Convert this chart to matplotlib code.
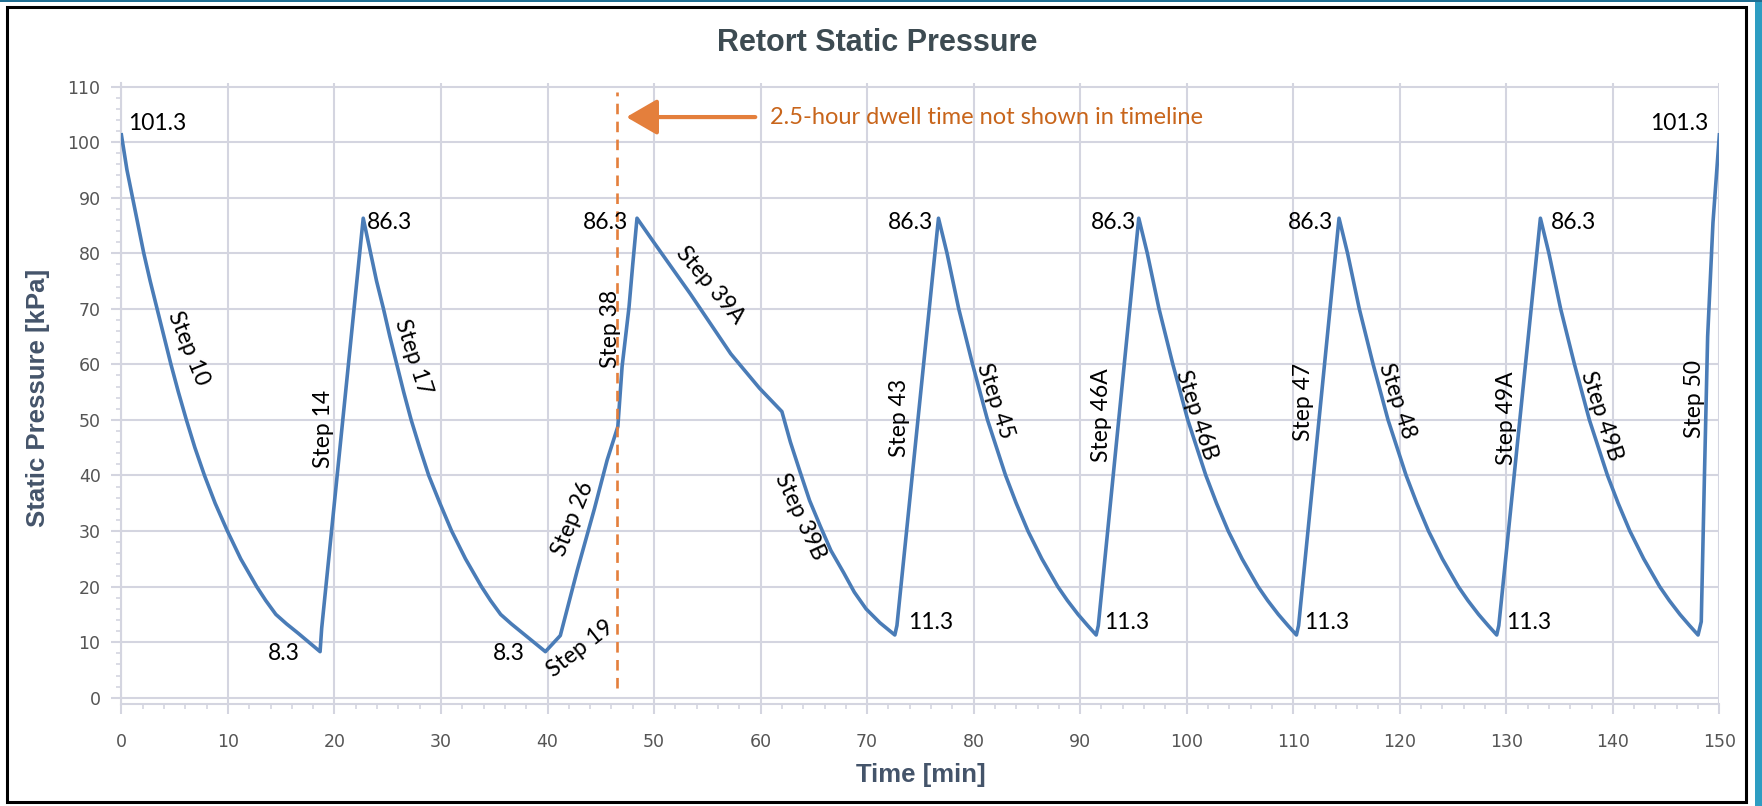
import matplotlib
matplotlib.use('Agg')
import matplotlib.pyplot as plt
from matplotlib.patches import Rectangle
from matplotlib.ticker import MultipleLocator

# ---------------- data ----------------
time_min = [
    # Step 10
    0.0, 0.52, 1.05, 1.57, 2.1, 2.7, 3.35, 4.0, 4.65, 5.35, 6.1, 6.9, 7.8,
    8.8, 9.95, 11.2, 12.7, 13.55, 14.5, 15.5, 16.6, 17.6, 18.65,
    # Step 14
    18.8, 22.7,
    # Step 17
    23.4, 23.95, 24.6, 25.2, 25.85, 26.5, 27.2, 28.0, 28.85, 29.9, 31.0,
    32.3, 33.8, 34.65, 35.6, 36.6, 38.2, 39.8,
    # Step 19
    41.2,
    # Step 26
    42.8, 44.4, 45.6, 46.6,
    # Step 38
    47.0, 47.65, 48.0, 48.4,
    # Step 39A
    50.0, 53.4, 57.2, 59.9, 62.0,
    # Step 39B
    62.8, 63.75, 64.6, 65.6, 66.6, 67.8, 68.8, 69.9, 71.2, 72.6,
    # Step 43
    72.8, 76.7,
    # Step 45
    77.5, 78.05, 78.6, 79.25, 79.9, 80.6, 81.3, 82.15, 83.0, 84.0, 85.1,
    86.4, 87.9, 88.8, 89.8, 90.7, 91.5,
    # Step 46A
    91.7, 95.5,
    # Step 46B
    96.3, 96.85, 97.4, 98.05, 98.7, 99.4, 100.1, 100.95, 101.8, 102.8,
    103.9, 105.2, 106.7, 107.6, 108.6, 109.5, 110.3,
    # Step 47
    110.5, 114.3,
    # Step 48
    115.1, 115.65, 116.2, 116.85, 117.5, 118.2, 118.9, 119.75, 120.6, 121.6,
    122.7, 124.0, 125.5, 126.4, 127.4, 128.3, 129.1,
    # Step 49A
    129.3, 133.2,
    # Step 49B
    134.0, 134.55, 135.1, 135.75, 136.4, 137.1, 137.8, 138.65, 139.5, 140.5,
    141.6, 142.9, 144.4, 145.3, 146.3, 147.2, 148.0,
    # Step 50
    148.3, 148.6, 148.9, 149.4, 150.0]
pressure_kpa = [
    101.3, 95, 90, 85, 80, 75, 70, 65, 60, 55, 50, 45, 40,
    35, 30, 25, 20, 17.5, 15, 13.3, 11.6, 10, 8.3,
    12.5, 86.3,
    80, 75, 70, 65, 60, 55, 50, 45, 40, 35, 30,
    25, 20, 17.5, 15, 13.3, 10.8, 8.3,
    11.2,
    23.0, 34.0, 42.8, 48.8,
    59.6, 70.3, 78.0, 86.3,
    81.9, 72.7, 61.9, 55.7, 51.5,
    46.0, 40.4, 35.5, 30.9, 26.5, 22.5, 19.0, 16.0, 13.5, 11.3,
    13.0, 86.3,
    80, 75, 70, 65, 60, 55, 50, 45, 40, 35, 30,
    25, 20, 17.5, 15, 13, 11.3,
    13.0, 86.3,
    80, 75, 70, 65, 60, 55, 50, 45, 40, 35,
    30, 25, 20, 17.5, 15, 13, 11.3,
    13.0, 86.3,
    80, 75, 70, 65, 60, 55, 50, 45, 40, 35,
    30, 25, 20, 17.5, 15, 13, 11.3,
    13.0, 86.3,
    80, 75, 70, 65, 60, 55, 50, 45, 40, 35,
    30, 25, 20, 17.5, 15, 13, 11.3,
    13.7, 40.0, 65.0, 85.5, 101.3]

value_labels = ["101.3", "8.3", "86.3", "8.3", "86.3", "86.3", "86.3", "86.3",
                "86.3", "101.3", "11.3", "11.3", "11.3", "11.3"]
value_t = [3.4, 15.2, 25.2, 36.4, 45.4, 74.1, 93.1, 111.6, 136.3, 146.2,
           76.0, 94.4, 113.1, 132.1]
value_p = [103.3, 7.9, 85.5, 7.9, 85.5, 85.5, 85.5, 85.5, 85.5, 103.3,
           13.5, 13.5, 13.5, 13.5]

step_labels = ["Step 10", "Step 14", "Step 17", "Step 19", "Step 26", "Step 38",
               "Step 39A", "Step 39B", "Step 43", "Step 45", "Step 46A",
               "Step 46B", "Step 47", "Step 48", "Step 49A", "Step 49B",
               "Step 50"]
step_t = [6.3, 19.0, 27.4, 43.1, 42.4, 45.9, 55.3, 63.7, 73.0, 82.0, 92.0,
          100.9, 111.0, 119.7, 130.0, 138.9, 147.7]
step_p = [62.9, 48.3, 61.3, 8.9, 32.2, 66.3, 74.2, 32.6, 50.4, 53.4, 50.8,
          50.8, 53.2, 53.4, 50.4, 50.8, 53.8]
step_rot = [-68, 90, -72, 38, 68, 90, -50, -65, 90, -72, 90, -72, 90, -72,
            90, -72, 90]

dwell_t = 46.5
arrow_tip_t = 47.4
arrow_tail_t = 59.5
arrow_p = 104.5
note_text = "2.5-hour dwell time not shown in timeline"
note_t = 60.9

title = "Retort Static Pressure"
xlabel = "Time [min]"
ylabel = "Static Pressure [kPa]"

# ---------------- styling ----------------
GRID = '#D4D5E0'
LINE = '#4A7CB7'
TICKC = '#555555'
LABC = '#44546A'
ORANGE = '#E47F3C'
NOTE = '#C8651B'
LABEL_FS = 16.5

fig = plt.figure(figsize=(17.62, 8.06), dpi=100)
fig.patch.set_facecolor('white')

ax = fig.add_axes([0.0689, 0.1267, 0.9069, 0.7708])
ax.set_xlim(0, 150)
ax.set_ylim(-1.1, 110.7)

ax.xaxis.set_major_locator(MultipleLocator(10))
ax.xaxis.set_minor_locator(MultipleLocator(2))
ax.set_yticks(range(0, 111, 10))
ax.yaxis.set_minor_locator(MultipleLocator(2))

for s in ['top', 'right']:
    ax.spines[s].set_visible(False)
for s in ['left', 'bottom']:
    ax.spines[s].set_color(GRID)
    ax.spines[s].set_linewidth(1.5)

ax.grid(True, which='major', color=GRID, linewidth=1.5, zorder=0)
ax.set_axisbelow(True)
ax.tick_params(axis='both', which='major', color=GRID, width=1.5, length=7,
               labelsize=12.5, labelcolor=TICKC)
ax.tick_params(axis='x', which='major', pad=14)
ax.tick_params(axis='y', which='major', pad=8)
ax.tick_params(axis='both', which='minor', color=GRID, width=1.2, length=3.5)
for lab in ax.get_xticklabels() + ax.get_yticklabels():
    lab.set_family('DejaVu Sans')

ax.plot(time_min, pressure_kpa, color=LINE, linewidth=2.6, zorder=3)

for txt, t, p in zip(value_labels, value_t, value_p):
    ax.text(t, p, txt, ha='center', va='center', fontsize=LABEL_FS,
            family='Lato', color='black', zorder=5)

for txt, t, p, r in zip(step_labels, step_t, step_p, step_rot):
    ax.text(t, p, txt, ha='center', va='center', fontsize=LABEL_FS,
            family='Lato', rotation=r, rotation_mode='anchor',
            color='black', zorder=5)

ax.vlines(dwell_t, 1.8, 109, colors=ORANGE, linewidth=1.9,
          linestyles=(0, (4, 2.8)), zorder=4)
ax.annotate('', xy=(arrow_tip_t, arrow_p), xytext=(arrow_tail_t, arrow_p),
            arrowprops=dict(arrowstyle='-|>,head_length=0.95,head_width=0.55',
                            color=ORANGE, lw=3, mutation_scale=20,
                            shrinkA=0, shrinkB=0), zorder=5)
ax.text(note_t, arrow_p, note_text, ha='left', va='center',
        fontsize=LABEL_FS + 0.5, family='Lato', color=NOTE, zorder=5)

fig.text(0.4977, 0.947, title, ha='center', va='center', fontsize=22,
         fontweight='bold', family='Liberation Sans', color='#3D4B52')
fig.text(0.5225, 0.038, xlabel, ha='center', va='center', fontsize=18.5,
         fontweight='bold', family='Liberation Sans', color=LABC)
fig.text(0.0215, 0.506, ylabel, ha='center', va='center', fontsize=18.5,
         fontweight='bold', family='Liberation Sans', color=LABC,
         rotation=90)

# outer frame and decoration
fig.add_artist(Rectangle((7 / 1762, 4 / 806), 1739 / 1762, 795 / 806,
                         transform=fig.transFigure, fill=False,
                         edgecolor='black', linewidth=2.2, zorder=10))
fig.add_artist(Rectangle((1755 / 1762, 0), 7 / 1762, 1,
                         transform=fig.transFigure, facecolor='#2E9DC2',
                         edgecolor='none', zorder=10))
fig.add_artist(Rectangle((0, 1 - 2 / 806), 1, 2 / 806,
                         transform=fig.transFigure, facecolor='#1E6E92',
                         edgecolor='none', zorder=10))

fig.savefig('out.png', dpi=100, facecolor='white')
